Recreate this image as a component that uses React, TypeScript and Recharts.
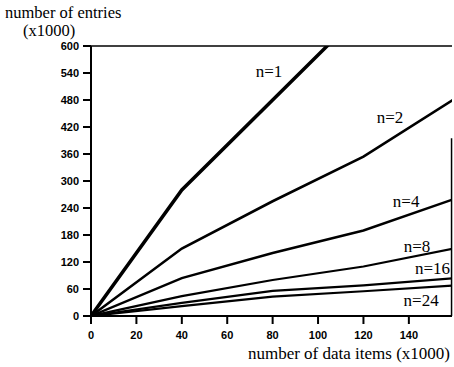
import React from 'react';
import {
  LineChart,
  Line,
  XAxis,
  YAxis,
  ReferenceLine,
  ReferenceDot,
} from 'recharts';

// data items (x1000)
const items = [0, 40, 80, 120, 160];

// number of entries (x1000) for each n
const n1 = [0, 280, 480, 680, null];
const n2 = [0, 150, 255, 354, 482];
const n4 = [0, 84, 140, 190, 260];
const n8 = [0, 44, 80, 110, 150];
const n16 = [0, 29, 56, 68, 84];
const n24 = [0, 22, 43, 55, 68];

const xTicks = [0, 20, 40, 60, 80, 100, 120, 140];
const yTicks = [0, 60, 120, 180, 240, 300, 360, 420, 480, 540, 600];

// curve labels, placed in data coordinates
const labelNames = ['n=1', 'n=2', 'n=4', 'n=8', 'n=16', 'n=24'];
const labelX = [78.4, 131.7, 138.8, 143.6, 150.4, 145.4];
const labelY = [544, 442, 256, 156, 107, 36];

const data = items.map((x, i) => ({
  x,
  n1: n1[i],
  n2: n2[i],
  n4: n4[i],
  n8: n8[i],
  n16: n16[i],
  n24: n24[i],
}));

const SERIF = '"Liberation Serif", "Times New Roman", serif';
const SANS = '"Liberation Sans", Arial, sans-serif';
const INK = '#000';

const tickStyle = { fontSize: 11, fontWeight: 700, fill: INK, fontFamily: SANS };

const YTitle = (props: any) => {
  const vb = props.viewBox;
  return (
    <g fontFamily={SERIF} fontSize={16.5} fill={INK}>
      <text x={vb.x - 16} y={vb.y - 28}>number of entries</text>
      <text x={vb.x + 2} y={vb.y - 10}>(x1000)</text>
    </g>
  );
};

const series = [
  { key: 'n1', width: 3.5 },
  { key: 'n2', width: 2.6 },
  { key: 'n4', width: 2.4 },
  { key: 'n8', width: 2.2 },
  { key: 'n16', width: 2.2 },
  { key: 'n24', width: 2.2 },
];

export default function App() {
  return (
    <div style={{ position: 'absolute', left: 0, top: 0, background: '#fff' }}>
      <LineChart
        width={454}
        height={367}
        data={data}
        margin={{ top: 46, right: 2, bottom: 6, left: 21 }}
      >
        <XAxis
          dataKey="x"
          type="number"
          domain={[0, 159]}
          ticks={xTicks}
          allowDataOverflow
          height={45}
          tickSize={8}
          tickMargin={7}
          tick={tickStyle}
          axisLine={{ stroke: INK, strokeWidth: 2 }}
          tickLine={{ stroke: INK, strokeWidth: 2 }}
          label={{
            value: 'number of data items (x1000)',
            position: 'insideBottomRight',
            offset: 2,
            fill: INK,
            fontSize: 17,
            fontFamily: SERIF,
          }}
        />
        <YAxis
          type="number"
          domain={[0, 600]}
          ticks={yTicks}
          allowDataOverflow
          width={70}
          tickSize={8}
          tickMargin={4}
          tick={tickStyle}
          axisLine={{ stroke: INK, strokeWidth: 2 }}
          tickLine={{ stroke: INK, strokeWidth: 2 }}
          label={{ content: <YTitle /> }}
        />
        <ReferenceLine y={600} stroke={INK} strokeWidth={1.5} />
        <ReferenceLine
          segment={[{ x: 158.8, y: 0 }, { x: 158.8, y: 395 }]}
          stroke={INK}
          strokeWidth={1.5}
        />
        {series.map((s) => (
          <Line
            key={s.key}
            dataKey={s.key}
            type="linear"
            stroke={INK}
            strokeWidth={s.width}
            dot={false}
            activeDot={false}
            connectNulls={false}
            isAnimationActive={false}
          />
        ))}
        {labelNames.map((name, i) => (
          <ReferenceDot
            key={name}
            x={labelX[i]}
            y={labelY[i]}
            r={0}
            stroke="none"
            fill="none"
            label={{
              value: name,
              position: 'center',
              fill: INK,
              fontSize: 17,
              fontFamily: SERIF,
            }}
          />
        ))}
      </LineChart>
    </div>
  );
}
